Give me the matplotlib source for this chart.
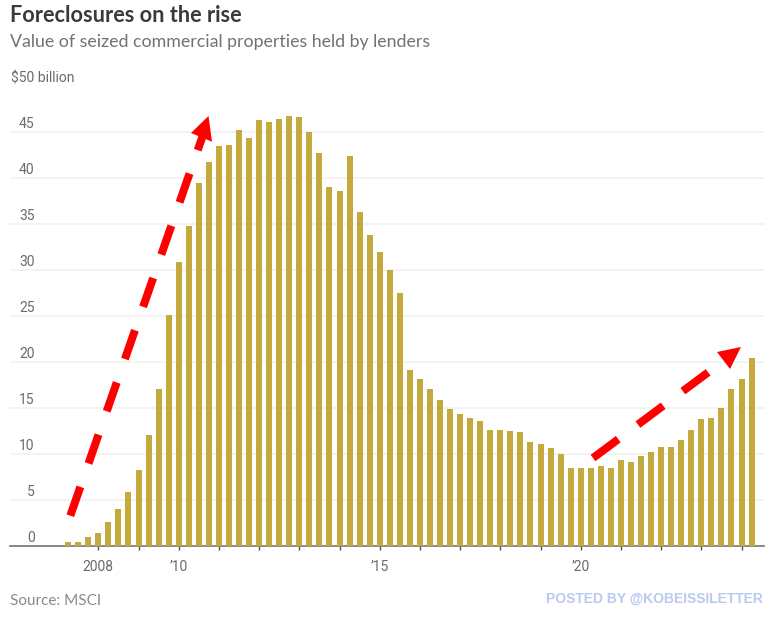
import numpy as np
import matplotlib
matplotlib.use('Agg')
import matplotlib.pyplot as plt
from matplotlib.patches import Polygon

W, H = 776, 624

#value of seized properties, one bar a quarter from 2007 Q2 to 2024 Q2 ($bn)
first_quarter = 2007.25
values = [0.5, 0.5, 1.0, 1.4, 2.6, 4.1, 5.9, 8.3,
          12.1, 17.1, 25.2, 30.9, 34.8, 39.5, 41.8, 43.5,
          43.6, 45.3, 44.4, 46.4, 46.1, 46.5, 46.8, 46.7,
          45.1, 42.8, 39.1, 38.6, 42.4, 36.4, 33.8, 32.0,
          30.0, 27.5, 19.2, 18.2, 17.1, 15.9, 14.9, 14.4,
          14.0, 13.6, 12.7, 12.7, 12.5, 12.4, 11.3, 11.1,
          10.7, 10.0, 8.55, 8.55, 8.55, 8.7, 8.55, 9.35,
          9.2, 9.8, 10.3, 10.8, 10.8, 11.6, 12.7, 13.85,
          14.0, 15.0, 17.1, 18.2, 20.5]

y_ticks = [0, 5, 10, 15, 20, 25, 30, 35, 40, 45]
year_ticks = list(range(2008, 2025))
year_labels = {2008: '2008', 2010: "\u201910", 2015: "\u201915", 2020: "\u201920"}

title = 'Foreclosures on the rise'
subtitle = 'Value of seized commercial properties held by lenders'
source = 'Source: MSCI'
posted = 'POSTED BY @KOBEISSILETTER'

#arrows in pixels of the picture: start of shaft, end of shaft, head triangle, dash, gap
arrow_up = [(70.3, 515.7), (203, 135), [(208.5, 116), (191, 133), (212, 141.7)], 30.5, 24.8]
arrow_right = [(593, 458), (722, 362), [(741, 347), (717, 352), (730, 369)], 31.5, 24.5]

NARROW = ['Roboto', 'DejaVu Sans']
GREY = '#6b6b6b'
LABEL_SIZE = 10


def px(x, y):
    #picture pixels (y down) to figure fraction
    return x / W, 1 - y / H


def draw_arrow(fig, arrow):
    start, end, head, dash, gap = arrow
    width = 8
    xs, ys = zip(px(*start), px(*end))
    fig.add_artist(plt.Line2D(xs, ys, transform=fig.transFigure, color='#ff0000',
                              lw=width * 72 / 100, linestyle=(0, (dash / width, gap / width)),
                              dash_capstyle='butt', zorder=5))
    fig.add_artist(Polygon([px(*p) for p in head], closed=True, transform=fig.transFigure,
                           color='#ff0000', lw=0, zorder=5))


fig = plt.figure(figsize=(W / 100, H / 100), dpi=100, facecolor='white')

left, right, top, bottom = 10, 764, 86.5, 546.3
ax = fig.add_axes([left / W, 1 - bottom / H, (right - left) / W, (bottom - top) / H])

quarters = first_quarter + np.arange(len(values)) * 0.25
ax.bar(quarters, values, width=6 / 40.2, color='#c4a93c', zorder=3)

ax.set_xlim(2008 - 88.3 / 40.2, 2008 + (right - 98.3) / 40.2)
ax.set_ylim(0, 50)

ax.set_yticks(y_ticks + [50])
ax.set_yticklabels([])
ax.yaxis.grid(True, color='#f2f2f2', lw=1.3, zorder=0)
ax.tick_params(axis='y', length=0)
ax.set_axisbelow(True)

ax.set_xticks(year_ticks)
ax.set_xticklabels([year_labels.get(y, '') for y in year_ticks], family=NARROW,
                   fontsize=LABEL_SIZE, color=GREY)
ax.tick_params(axis='x', length=3, width=1, color='#555555', pad=7)

for s in ['top', 'left', 'right']:
    ax.spines[s].set_visible(False)
ax.spines['bottom'].set_color('#808080')
ax.spines['bottom'].set_linewidth(1.3)

#y labels sit on top of the gridlines
trans = ax.get_yaxis_transform()
for v in y_ticks:
    ax.annotate(str(v), xy=(24.5 / (right - left), v), xycoords=trans, xytext=(0, 3),
                textcoords='offset points', ha='right', va='baseline',
                family=NARROW, fontsize=LABEL_SIZE, color=GREY)
ax.annotate('$50 billion', xy=(1 / (right - left), 50), xycoords=trans, xytext=(0, 3),
            textcoords='offset points', ha='left', va='baseline',
            family=NARROW, fontsize=LABEL_SIZE, color=GREY)

x, y = px(10, 22.5)
fig.text(x, y, title, family=['Lato', 'DejaVu Sans'], fontweight='bold', fontsize=15.6,
         color='#3a3a3a', va='baseline')
x, y = px(10, 47)
fig.text(x, y, subtitle, family=['Lato', 'DejaVu Sans'], fontsize=12.8, color='#6f7378', va='baseline')
x, y = px(10, 605)
fig.text(x, y, source, family=['Lato', 'DejaVu Sans'], fontsize=11, color='#8a8a8a', va='baseline')
x, y = px(763, 603)
fig.text(x, y, posted, family=['Liberation Sans', 'DejaVu Sans'], fontweight='bold', fontsize=10,
         color='#b9c9ef', ha='right', va='baseline')

draw_arrow(fig, arrow_up)
draw_arrow(fig, arrow_right)

fig.savefig('out.png', dpi=100)
